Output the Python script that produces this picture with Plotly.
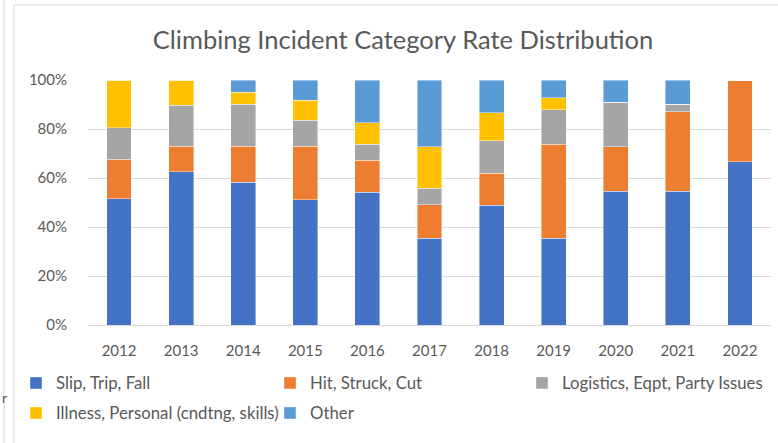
import plotly.graph_objects as go

years = ["2012", "2013", "2014", "2015", "2016", "2017", "2018", "2019", "2020", "2021", "2022"]
slip_trip_fall = [51.6, 62.5, 58.2, 51.2, 54.1, 35.4, 48.8, 35.4, 54.5, 54.5, 66.7]
hit_struck_cut = [16.1, 10.4, 14.8, 21.7, 13.1, 13.6, 13.2, 38.3, 18.2, 32.6, 33.3]
logistics = [12.9, 16.7, 17.1, 10.7, 6.5, 6.8, 13.3, 14.2, 18.2, 3.1, 0]
illness = [19.4, 10.4, 4.9, 8.1, 8.8, 16.9, 11.3, 4.9, 0, 0, 0]
other = [0, 0, 5.0, 8.3, 17.5, 27.3, 13.4, 7.2, 9.1, 9.8, 0]

series = [
    ("Slip, Trip, Fall", slip_trip_fall, "#4472C4", "legend"),
    ("Hit, Struck, Cut", hit_struck_cut, "#ED7D31", "legend"),
    ("Logistics, Eqpt, Party Issues", logistics, "#A5A5A5", "legend3"),
    ("Illness, Personal (cndtng, skills)", illness, "#FFC000", "legend2"),
    ("Other", other, "#5B9BD5", "legend2"),
]

FONT = "Lato, 'Open Sans', sans-serif"
TXT = "#595959"

fig = go.Figure()
for name, vals, color, lg in series:
    fig.add_trace(go.Bar(
        x=years, y=[v / 100 for v in vals], name=name,
        marker=dict(color=color, line=dict(color="rgba(255,255,255,0.6)", width=0.7)),
        legend=lg,
    ))

W, H = 778, 443
L, R, T, B = 88, 7, 80, 118
pw, ph = W - L - R, H - T - B

def px(x):
    return (x - L) / pw

def py(y):
    return (H - B - y) / ph

def cx(x):
    return x / W

def cy(y):
    return 1 - y / H

leg_common = dict(orientation="h", xref="container", yref="container", xanchor="left",
                  yanchor="middle", entrywidth=209, entrywidthmode="pixels",
                  font=dict(size=16.8, color=TXT), bgcolor="rgba(0,0,0,0)", traceorder="normal")

fig.update_layout(
    width=W, height=H,
    margin=dict(l=L, r=R, t=T, b=B, autoexpand=False),
    barmode="stack", bargap=0.6,
    paper_bgcolor="white", plot_bgcolor="white",
    font=dict(family=FONT, size=15, color=TXT),
    title=dict(text="Climbing Incident Category Rate Distribution",
               xref="container", yref="container",
               x=cx(403), xanchor="center", y=cy(40), yanchor="middle",
               font=dict(family=FONT, size=25.5, color=TXT)),
    xaxis=dict(showgrid=False, showline=False, ticks="", ticklabelstandoff=15,
               tickfont=dict(size=15, color=TXT)),
    yaxis=dict(range=[0, 1], tickvals=[0, 0.2, 0.4, 0.6, 0.8, 1.0], tickformat=".0%",
               showgrid=True, gridcolor="#D9D9D9", gridwidth=1, zeroline=True,
               zerolinecolor="#D9D9D9", zerolinewidth=1, ticks="", ticklabelstandoff=20,
               tickfont=dict(size=15, color=TXT)),
    legend=dict(x=cx(16), y=cy(383), **leg_common),
    legend3=dict(x=cx(522), y=cy(383), **leg_common),
    legend2=dict(x=cx(16), y=cy(413), **leg_common),
    showlegend=True,
)

# chart border & neighbouring frame
fig.add_shape(type="rect", xref="paper", yref="paper", x0=px(14), x1=px(800), y0=py(460), y1=py(5),
              line=dict(color="#D9D9D9", width=1), fillcolor="rgba(0,0,0,0)", layer="below")
fig.add_shape(type="line", xref="paper", yref="paper", x0=px(4), x1=px(4), y0=py(460), y1=py(0),
              line=dict(color="#D9D9D9", width=1))
fig.add_annotation(text="r", xref="paper", yref="paper", x=px(0), y=py(397), xanchor="left",
                   yanchor="middle", showarrow=False, font=dict(size=14, color=TXT))

fig.write_html("out.html", config={"displayModeBar": False},
               post_script="document.body.style.margin='0px';")
